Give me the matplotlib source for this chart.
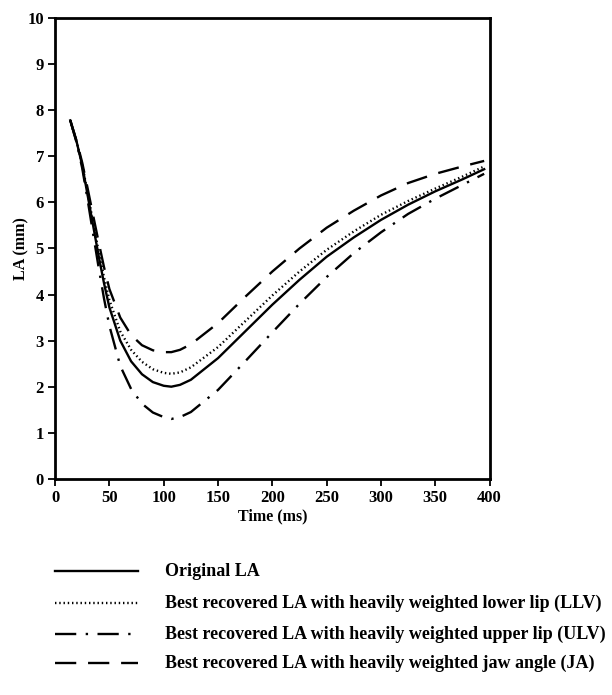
import matplotlib
matplotlib.use("Agg")
import matplotlib.pyplot as plt
from matplotlib.lines import Line2D

plt.rcParams["font.family"] = ["Liberation Serif", "DejaVu Serif"]

# time axis (ms)
time_ms = [14, 20, 25, 30, 35, 40, 45, 50, 60, 70, 80, 90, 100, 107, 115, 125,
           150, 175, 200, 225, 250, 275, 300, 325, 350, 375, 395]

# LA (mm) for each curve
la_orig = [7.78, 7.3, 6.8, 6.15, 5.5, 4.85, 4.25, 3.72, 3.0, 2.55, 2.27, 2.1, 2.02, 2.0,
           2.04, 2.15, 2.62, 3.2, 3.78, 4.32, 4.82, 5.24, 5.62, 5.95, 6.24, 6.5, 6.72]
la_llv = [7.78, 7.3, 6.82, 6.2, 5.57, 4.95, 4.38, 3.88, 3.2, 2.8, 2.54, 2.38, 2.3, 2.28,
          2.31, 2.42, 2.86, 3.42, 3.98, 4.5, 4.97, 5.37, 5.73, 6.03, 6.3, 6.56, 6.78]
la_ulv = [7.78, 7.28, 6.74, 6.05, 5.32, 4.6, 3.92, 3.32, 2.45, 1.95, 1.63, 1.44, 1.34, 1.3,
          1.34, 1.45, 1.93, 2.55, 3.18, 3.8, 4.38, 4.9, 5.35, 5.75, 6.08, 6.38, 6.62]
la_ja = [7.78, 7.32, 6.86, 6.3, 5.72, 5.15, 4.6, 4.12, 3.5, 3.12, 2.9, 2.79, 2.75, 2.75,
         2.8, 2.92, 3.38, 3.95, 4.5, 5.0, 5.45, 5.82, 6.15, 6.42, 6.62, 6.78, 6.9]

labels = ["Original LA",
          "Best recovered LA with heavily weighted lower lip (LLV)",
          "Best recovered LA with heavily weighted upper lip (ULV)",
          "Best recovered LA with heavily weighted jaw angle (JA)"]

styles = [dict(linestyle="-", linewidth=1.7),
          dict(linestyle=(0, (0.6, 1.2)), linewidth=1.7),
          dict(linestyle=(0, (9, 4, 1, 4)), linewidth=1.7),
          dict(linestyle=(0, (9, 5)), linewidth=1.7)]

fig = plt.figure(figsize=(6.12, 6.95), dpi=100)
ax = fig.add_axes([0.09, 0.311, 0.71, 0.663])

for y, st in zip([la_orig, la_llv, la_ulv, la_ja], styles):
    ax.plot(time_ms, y, color="black", **st)

ax.set_xlim(0, 400)
ax.set_ylim(0, 10)
ax.set_xticks(range(0, 401, 50))
ax.set_yticks(range(0, 11))
ax.tick_params(direction="out", length=5, width=1.3, labelsize=12, pad=3)
for lab in ax.get_xticklabels() + ax.get_yticklabels():
    lab.set_fontweight("bold")
for s in ax.spines.values():
    s.set_linewidth(2)
ax.set_xlabel("Time (ms)", fontsize=11.5, fontweight="bold", labelpad=2)
ax.set_ylabel("LA (mm)", fontsize=11.5, fontweight="bold")
ax.yaxis.set_label_coords(-0.058, 0.5)

# legend drawn below the axes
leg_y = [571, 603, 634, 663]
for yp, lab, st in zip(leg_y, labels, styles):
    yf = 1 - yp / 695
    fig.add_artist(Line2D([55 / 612, 138 / 612], [yf, yf], color="black",
                          transform=fig.transFigure, **st))
    fig.text(165 / 612, yf, lab, fontsize=13, fontweight="bold",
             va="center", ha="left")

fig.savefig("out.png", dpi=100)
